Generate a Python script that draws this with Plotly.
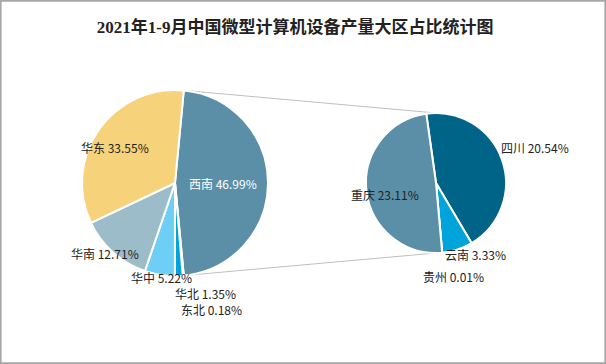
import math
import plotly.graph_objects as go

# ---- data ----
main_labels = ["西南", "东北", "华北", "华中", "华南", "华东"]
main_values = [46.99, 0.18, 1.35, 5.22, 12.71, 33.55]
main_colors = ["#5B8FA8", "#1F77B4", "#00A3DA", "#6DCFF6", "#9CBCCA", "#F6D27A"]

sub_labels = ["四川", "云南", "贵州", "重庆"]
sub_values = [20.54, 3.33, 0.01, 23.11]
sub_colors = ["#006388", "#00A3DA", "#1F77B4", "#5B8FA8"]

title_text = "2021年1-9月中国微型计算机设备产量大区占比统计图"

# ---- layout geometry (pixels) ----
W, H = 606, 364
L_cx, L_cy, L_r = 175, 183, 93
R_cx, R_cy, R_r = 436, 183, 70

# label centres (pixels), in the same order as the labels
main_label_pos = [(223, 183), (211, 309), (205, 293), (161, 277), (105, 253), (115, 147)]
main_label_col = ["white", "#222", "#222", "#222", "#222", "#222"]
sub_label_pos = [(535, 147), (475, 254), (453, 276), (385, 194)]

# the exploded slice is centred at 3 o'clock
main_rot = 90 - main_values[0] / sum(main_values) * 360 / 2
sub_rot = -8


def dom(cx, cy, r):
    return dict(x=[(cx - r) / W, (cx + r) / W], y=[(H - cy - r) / H, (H - cy + r) / H])


fig = go.Figure()
fig.add_trace(go.Pie(
    labels=main_labels, values=main_values, sort=False, direction="clockwise",
    rotation=main_rot, domain=dom(L_cx, L_cy, L_r),
    marker=dict(colors=main_colors, line=dict(color="white", width=2)),
    textinfo="none", showlegend=False, hoverinfo="label+value",
))
fig.add_trace(go.Pie(
    labels=sub_labels, values=sub_values, sort=False, direction="clockwise",
    rotation=sub_rot, domain=dom(R_cx, R_cy, R_r),
    marker=dict(colors=sub_colors, line=dict(color="white", width=2)),
    textinfo="none", showlegend=False, hoverinfo="label+value",
))

annotations = []
for lab, val, (px, py), col in zip(main_labels, main_values, main_label_pos, main_label_col):
    annotations.append(dict(text=f"{lab} {val:.2f}%", x=px / W, y=1 - py / H, xref="paper", yref="paper",
                            xanchor="center", yanchor="middle", showarrow=False,
                            font=dict(family="Noto Sans CJK SC", size=12, color=col)))
for lab, val, (px, py) in zip(sub_labels, sub_values, sub_label_pos):
    annotations.append(dict(text=f"{lab} {val:.2f}%", x=px / W, y=1 - py / H, xref="paper", yref="paper",
                            xanchor="center", yanchor="middle", showarrow=False,
                            font=dict(family="Noto Sans CJK SC", size=12, color="#222")))

# connector lines from the exploded slice edges to the secondary pie
span = main_values[0] / sum(main_values) * 360
a0 = math.radians(main_rot)
a1 = math.radians(main_rot + span)
p_top = (L_cx + L_r * math.sin(a0), L_cy - L_r * math.cos(a0))
p_bot = (L_cx + L_r * math.sin(a1), L_cy - L_r * math.cos(a1))
q_top = (R_cx, R_cy - R_r)
q_bot = (R_cx, R_cy + R_r)

shapes = []
for p, q in [(p_top, q_top), (p_bot, q_bot)]:
    shapes.append(dict(type="line", xref="paper", yref="paper",
                       x0=p[0] / W, y0=1 - p[1] / H, x1=q[0] / W, y1=1 - q[1] / H,
                       line=dict(color="#BFBFBF", width=1), layer="below"))
shapes.append(dict(type="rect", xref="paper", yref="paper", x0=0.001, y0=0.002, x1=0.999, y1=0.998,
                   line=dict(color="#A6A6A6", width=2)))

fig.update_layout(
    width=W, height=H, margin=dict(l=0, r=0, t=0, b=0),
    paper_bgcolor="white", plot_bgcolor="white",
    title=dict(text="<b>" + title_text + "</b>", x=0.487, xanchor="center", y=1 - 27 / H, yanchor="middle",
               font=dict(family="Liberation Serif, Noto Sans CJK SC", size=17, color="#222")),
    shapes=shapes, annotations=annotations,
)

fig.write_html("out.html", config={"displayModeBar": False},
               post_script="document.body.style.margin='0';")
